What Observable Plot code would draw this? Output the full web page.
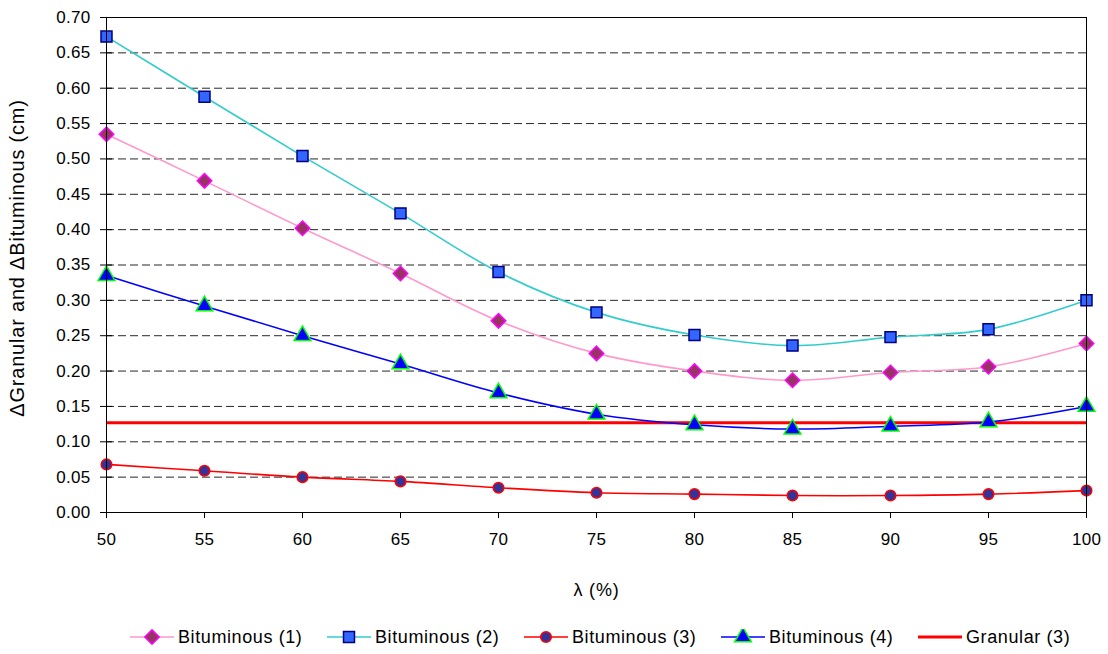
<!DOCTYPE html>
<html>
<head>
<meta charset="utf-8">
<script src="https://cdn.jsdelivr.net/npm/d3@7"></script>
<script src="https://cdn.jsdelivr.net/npm/@observablehq/plot@0.6"></script>
<style>
  html, body { margin: 0; padding: 0; background: #fff; }
  body { width: 1108px; height: 654px; overflow: hidden; font-family: "Liberation Sans", Arial, sans-serif; }
  #chart svg g[aria-label="y-axis tick label"] text,
  #chart svg g[aria-label="x-axis tick label"] text { letter-spacing: 0.3px; }
  .axis-title text { letter-spacing: 0.8px; }
  #legend { display: flex; align-items: center; height: 50px; padding-left: 130px; box-sizing: border-box; }
  .item { display: flex; align-items: center; flex: none; width: 197px; font-size: 18px; letter-spacing: 0.6px; color: #000; }
  .item svg { flex: none; margin-right: 4px; }
</style>
</head>
<body>
<div id="chart"></div>
<div id="legend"></div>
<script>
// Degree of compaction λ (%)
const lambda = [50, 55, 60, 65, 70, 75, 80, 85, 90, 95, 100];

// Settlement differences (cm) for each bituminous layer case
const bituminous1 = [0.535, 0.469, 0.402, 0.338, 0.271, 0.225, 0.200, 0.187, 0.198, 0.206, 0.239];
const bituminous2 = [0.673, 0.588, 0.504, 0.423, 0.340, 0.283, 0.251, 0.236, 0.248, 0.259, 0.300];
const bituminous3 = [0.068, 0.059, 0.050, 0.044, 0.035, 0.028, 0.026, 0.024, 0.024, 0.026, 0.031];
const bituminous4 = [0.335, 0.292, 0.250, 0.210, 0.169, 0.139, 0.124, 0.118, 0.122, 0.128, 0.150];

// Granular layer case: constant over λ
const granular3 = 0.127;

// Axis ticks and titles
const xTicks = [50, 55, 60, 65, 70, 75, 80, 85, 90, 95, 100];
const yTicks = [0, 0.05, 0.10, 0.15, 0.20, 0.25, 0.30, 0.35, 0.40, 0.45, 0.50, 0.55, 0.60, 0.65, 0.70];
const gridTicks = [0.05, 0.10, 0.15, 0.20, 0.25, 0.30, 0.35, 0.40, 0.45, 0.50, 0.55, 0.60, 0.65];
const xTitle = "λ (%)";
const yTitle = "ΔGranular and ΔBituminous (cm)";

// Series styling
const series = [
  {name: "Bituminous (1)", values: bituminous1, line: "#FF99CC", symbol: "diamond2", fill: "#993366", stroke: "#FF00FF", r: 6.5},
  {name: "Bituminous (2)", values: bituminous2, line: "#33CCCC", symbol: "square", fill: "#3366FF", stroke: "#000080", r: 6.2},
  {name: "Bituminous (3)", values: bituminous3, line: "#FF0000", symbol: "circle", fill: "#333399", stroke: "#FF0000", r: 5.3},
  {name: "Bituminous (4)", values: bituminous4, line: "#0000FF", symbol: "triangle", fill: "#0000FF", stroke: "#00FF00", r: 6.2}
];

const rows = s => lambda.map((l, i) => ({l, v: s.values[i]}));

const marks = [
  Plot.gridY(gridTicks, {stroke: "#000", strokeOpacity: 0.85, strokeDasharray: "8,4", strokeWidth: 1}),
  Plot.ruleY([granular3], {stroke: "#FF0000", strokeWidth: 3})
];
for (const s of series) {
  marks.push(Plot.line(rows(s), {x: "l", y: "v", stroke: s.line, strokeWidth: 1.6, curve: "catmull-rom"}));
}
for (const s of series) {
  marks.push(Plot.dot(rows(s), {x: "l", y: "v", symbol: () => s.symbol, fill: s.fill, stroke: s.stroke, strokeWidth: 1.5, r: s.r}));
}
marks.push(
  Plot.frame({stroke: "#000", strokeWidth: 1}),
  // y axis: ticks crossing the axis line, labels with two decimals
  Plot.axisY({ticks: yTicks, tickFormat: d3.format(".2f"), tickSize: 6, tickPadding: 10, fontSize: 17, label: null}),
  Plot.axisY({ticks: yTicks, tickFormat: () => "", tickSize: -6, label: null}),
  Plot.axisX({ticks: xTicks, tickSize: 6, tickPadding: 14, fontSize: 17, label: null}),
  // axis titles
  Plot.text([yTitle], {text: d => d, frameAnchor: "left", rotate: -90, dx: -89, dy: -7,
                       fontSize: 20, textAnchor: "middle", lineAnchor: "middle", className: "axis-title"}),
  Plot.text([xTitle], {text: d => d, frameAnchor: "bottom", dy: 78,
                       fontSize: 18, textAnchor: "middle", lineAnchor: "middle", className: "axis-title"})
);

const chart = Plot.plot({
  width: 1108,
  height: 612,
  marginLeft: 106,
  marginRight: 22,
  marginTop: 17,
  marginBottom: 100,
  style: {fontFamily: "Liberation Sans, Arial, sans-serif", fontSize: "17px", color: "#000", background: "#fff"},
  x: {domain: [50, 100]},
  y: {domain: [0, 0.70]},
  marks
});
document.getElementById("chart").appendChild(chart);

// Legend below the chart
const legend = d3.select("#legend");
const legendItems = [
  ...series.map(s => ({name: s.name, line: s.line, symbol: s.symbol, fill: s.fill, stroke: s.stroke, r: s.r, width: 1.6})),
  {name: "Granular (3)", line: "#FF0000", symbol: null, width: 3}
];
const symbolTypes = {diamond2: d3.symbolDiamond2, square: d3.symbolSquare, circle: d3.symbolCircle, triangle: d3.symbolTriangle};
for (const it of legendItems) {
  const item = legend.append("div").attr("class", "item");
  const svg = item.append("svg").attr("width", 44).attr("height", 16);
  svg.append("line").attr("x1", 0).attr("x2", 44).attr("y1", 8).attr("y2", 8)
     .attr("stroke", it.line).attr("stroke-width", it.width);
  if (it.symbol) {
    svg.append("path")
       .attr("transform", "translate(22,8)")
       .attr("d", d3.symbol(symbolTypes[it.symbol], Math.PI * it.r * it.r)())
       .attr("fill", it.fill).attr("stroke", it.stroke).attr("stroke-width", 1.5);
  }
  item.append("span").text(it.name);
}
</script>
</body>
</html>
